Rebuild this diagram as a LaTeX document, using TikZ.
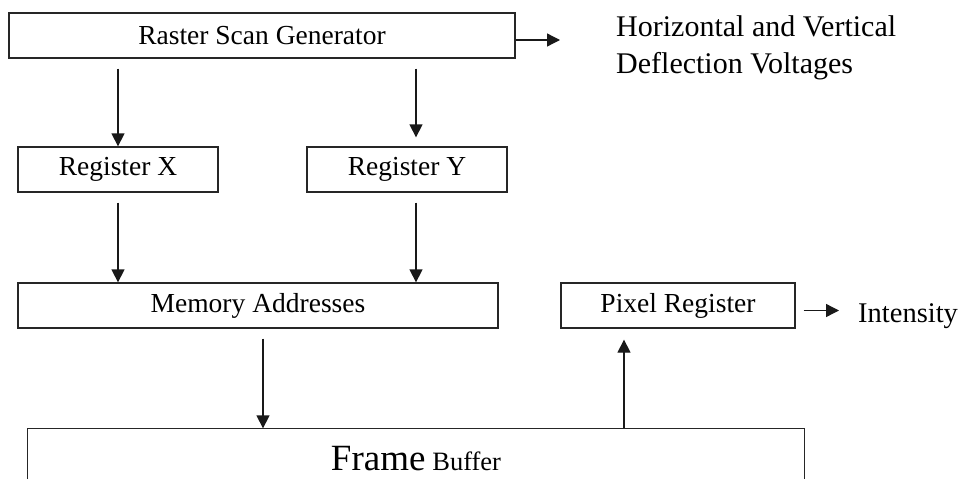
\documentclass[tikz,border=0pt]{standalone}
\usepackage{fontspec}
\setmainfont{Liberation Serif}
\usetikzlibrary{arrows.meta}

\begin{document}
\begin{tikzpicture}[
    x=1pt, y=-1pt,
    block/.style={rectangle, draw=black!85, line width=1.3pt, inner sep=0pt, minimum height=45pt, font=\fontsize{27.5}{33}\selectfont},
    arrow/.style={-{Triangle[length=13pt, width=13pt]}, line width=1.3pt, draw=black!90}
]
    \useasboundingbox (0,0) rectangle (966,479);
    \coordinate (colb) at (416,0);
    \coordinate (colp) at (624,0);
    \coordinate (bot) at (0,479);

    \node[block, minimum width=506pt] (rsg) at (262,35.5) {Raster Scan Generator};
    \node[block, minimum width=200pt] (regx) at (118,169.5) {Register X};
    \node[block, minimum width=200pt] (regy) at (407,169.5) {Register Y};
    \node[block, minimum width=480pt] (mem) at (258,305.5) {Memory Addresses};
    \node[block, minimum width=234pt] (pix) at (678,305.5) {Pixel Register};
    \node[block, draw=none, minimum width=776pt, minimum height=60pt] (fb) at (416,459)
        {{\fontsize{37}{40}\selectfont Frame} {\fontsize{26.5}{30}\selectfont Buffer}};
    \draw[line width=1.3pt, draw=black!85] (fb.west |- bot) |- (fb.north east) -- (fb.east |- bot);

    \node[anchor=north west, inner sep=0pt, align=left, font=\fontsize{30}{37}\selectfont] (defl) at (616,15)
        {Horizontal and Vertical\\ Deflection Voltages};
    \node[anchor=base west, inner sep=0pt, font=\fontsize{28.5}{33}\selectfont] (intens) at (858,322) {Intensity};

    \draw[arrow, shorten <=10pt] (rsg.south -| regx.north) -- (regx.north);
    \draw[arrow, shorten <=10pt, shorten >=9pt] (rsg.south -| colb) -- (regy.north -| colb);
    \draw[arrow, shorten <=10pt] (regx.south) -- (mem.north -| regx.south);
    \draw[arrow, shorten <=10pt] (regy.south -| colb) -- (mem.north -| colb);
    \draw[arrow, shorten <=10pt] ([xshift=5pt]mem.south) -- ([xshift=5pt]mem.south |- fb.north);
    \draw[arrow, shorten >=11pt] (fb.north -| colp) -- (pix.south -| colp);
    \draw[arrow, shorten >=56pt] ([yshift=-4.5pt]rsg.east) -- ([yshift=-4.5pt]rsg.east -| defl.west);
    \draw[arrow, shorten <=8pt, shorten >=19pt] ([yshift=-5pt]pix.east) -- ([yshift=-5pt]pix.east -| intens.west);
\end{tikzpicture}
\end{document}
